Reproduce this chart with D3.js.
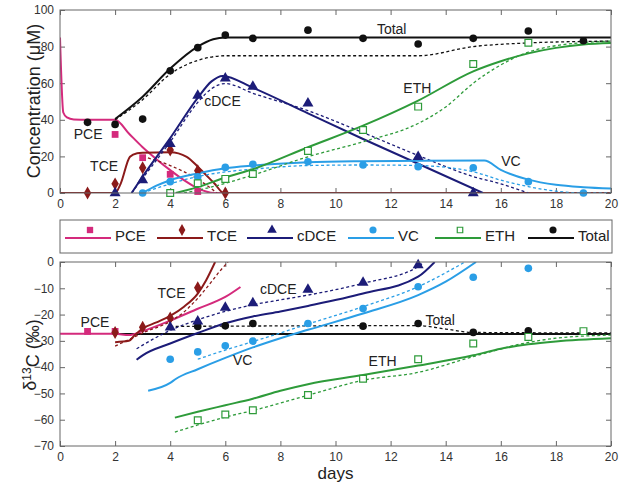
<!DOCTYPE html>
<html lang="en">
<head>
<meta charset="UTF-8">
<script src="https://d3js.org/d3.v7.min.js"></script>
<title>Concentration and d13C</title>
<style>
  body { margin: 0; background: white; }
  svg { font-family: Arial, "Liberation Sans", Helvetica, sans-serif; }
  .tick text { font-size: 12px; fill: #333; }
  .tick line { stroke: #666; }
  .lbl { font-size: 14px; fill: #222; }
</style>
</head>
<body>
<svg id="chart" width="621" height="484"></svg>
<script>
// ---- concentration (uM) ----
const pceObs = [[2, 32], [3, 19.3], [4, 10.2], [5, 0.8]];
const pceFit = [[0, 85], [0.12, 44], [0.25, 41.3], [0.5, 40.2], [1, 40], [2, 40], [2.5, 32.5], [3, 25], [3.5, 18.5], [4, 12.5], [4.5, 7], [5, 2.5], [5.6, 0], [6, 0]];
const tceObs = [[1, 0], [2, 5], [3, 13.8], [4, 23.5], [5, 12.2], [6, 0]];
const tceFit = [[0, 0], [2, 0], [2.2, 5], [2.54, 19.8], [2.8, 21.7], [3, 22], [4, 22.3], [4.6, 19.8], [5, 14.4], [5.6, 5.3], [5.95, 0], [20, 0]];
const tceDash = [[3, 20], [4, 15], [5, 7.5], [5.7, 0]];
const cdceObs = [[2, 0], [3, 7.1], [4, 26.8], [5, 53.2], [6, 62.7], [7, 58.1], [9, 49], [13, 19.8], [15, 0]];
const cdceFit = [[2.6, 0], [3, 9], [4, 30], [5, 52], [5.5, 61], [5.9, 64], [7, 57.5], [9, 43.5], [11, 29.5], [13, 16], [15.35, 0]];
const cdceDash = [[2.6, 0], [3, 8], [4, 28], [5, 49.5], [5.5, 57], [6, 59.8], [7, 54.5], [9, 45], [11, 33], [13, 20.5], [15, 9], [16, 5], [17, 0]];
const vcObs = [[3, 0], [4, 6.2], [5, 8.9], [6, 14], [7, 15.7], [9, 17.1], [11, 15.3], [13, 14.4], [15, 13.8], [17, 6.2], [19, 0]];
const vcFit = [[3, 0], [3.5, 4], [4, 7], [5, 10.7], [6, 13.5], [7, 15], [9, 16.8], [11, 17.4], [13, 17.6], [15.4, 17.7], [16, 12.6], [17, 7.3], [18, 4.5], [19, 3.2], [20, 2.5]];
const vcDash = [[3, 0], [4, 5], [5, 9], [6, 11.5], [7, 13], [9, 15], [11, 15.3], [13, 15], [15, 11.6], [16, 7], [17, 3.5], [18, 1], [19, 0], [20, 0]];
const ethObs = [[4, 0], [5, 5.3], [6, 7.7], [7, 10.4], [9, 23], [11, 34.4], [13, 47.2], [15, 70.5], [17, 82.1]];
const ethFit = [[4.2, 0], [5, 3.2], [6, 8.5], [7, 13], [9, 25], [11, 36.8], [13, 50.5], [15, 66.5], [16, 72], [17, 76.3], [18, 79.3], [19, 81.2], [20, 82]];
const ethDash = [[4.5, 0], [5, 1.5], [6, 5.3], [7, 9.8], [9, 19.8], [11, 28], [13, 38], [14, 47], [15, 60], [16, 70], [17, 77], [18, 80.5], [20, 83]];
const totalObs = [[1, 38.6], [2, 37.5], [3, 40.4], [4, 66.8], [5, 79.4], [6, 86.3], [7, 84.5], [9, 89], [11, 84.5], [13, 81.4], [15, 84.5], [17, 88.5], [19, 83.2]];
const totalFit = [[2, 40.4], [3, 52.6], [4, 68], [5, 80], [5.56, 84], [6, 85], [20, 85]];
const totalDash = [[2, 40], [3, 51], [4, 65], [5, 72.5], [5.5, 74.3], [6, 75], [13, 75], [15, 80], [17, 82], [20, 83]];

// ---- delta 13C (permil) ----
const pceIsoObs = [[1, -26.4], [2, -26.4]];
const pceIsoFit = [[0, -27.3], [2, -27.3], [2.5, -27.8], [3, -26.3], [4, -22.3], [5, -17.8], [6, -13.3], [6.55, -9.5]];
const tceIsoObs = [[2, -26.8], [3, -24.8], [4, -21.3], [5, -9.8]];
const tceIsoFit = [[2, -30.5], [2.5, -30], [2.7, -28], [3, -25.3], [3.5, -23], [4, -20.5], [4.5, -17], [5, -12], [5.3, -7], [5.63, 0]];
const tceIsoDash = [[2, -32], [2.5, -29.5], [3, -27], [4, -22.6], [4.5, -19], [5, -13.8], [5.5, -7.5], [5.8, -3.5], [6.1, 0]];
const cdceIsoObs = [[4, -24.9], [5, -22.6], [6, -17.3], [7, -15.6], [9, -10.5], [11, -7.8], [13, -1.2]];
const cdceIsoFit = [[2.78, -37.2], [3, -35.5], [4, -31], [5, -27], [6, -23.3], [7, -20.7], [8, -18.8], [9, -16.7], [11, -12], [13, -5.6], [13.6, 0]];
const cdceIsoDash = [[2.78, -33], [4, -26], [5, -22], [6, -18.8], [7, -16.3], [8, -14.4], [9, -12.6], [11, -8.1], [13, -1.8], [13.2, 0]];
const vcIsoObs = [[4, -37], [5, -34.2], [6, -31.9], [7, -30.1], [9, -23.4], [11, -17.7], [13, -9.4], [15, -5.8], [17, -2.4]];
const vcIsoFit = [[3.2, -49], [4, -46], [4.2, -44.5], [5, -40.8], [6, -36.5], [7, -32.5], [8, -29], [9, -25.8], [11, -19.6], [13, -12.6], [14, -7.5], [15.1, 0]];
const vcIsoDash = [[5, -37], [6, -33.5], [7, -30.3], [8, -27], [9, -23.6], [11, -17], [13, -9.4], [14.7, 0]];
const ethIsoObs = [[5, -60.2], [6, -58], [7, -56.4], [9, -50.6], [11, -44.4], [13, -37], [15, -31], [17, -28.5], [19, -26.3]];
const ethIsoFit = [[4.17, -59.2], [5, -57], [6, -54.5], [7, -52], [8, -49], [9, -46.5], [11, -43], [13, -39.4], [15, -35.5], [16, -33], [17, -31.3], [18, -30.2], [20, -29]];
const ethIsoDash = [[4.17, -64.7], [5, -62], [6, -59], [7, -56.5], [9, -50.7], [11, -45], [13, -42], [15, -36], [17, -30.6], [18, -29], [20, -27.8]];
const totalIsoObs = [[5, -24.5], [6, -24.3], [7, -23.4], [11, -24.4], [13, -23.4], [15, -26.8], [17, -26.2]];
const totalIsoFit = [[2, -27.4], [20, -27.4]];
const totalIsoDash = [[4, -24.5], [13, -24.2], [14, -25.5], [15, -26.8], [20, -27]];

const dayTicks = [0, 2, 4, 6, 8, 10, 12, 14, 16, 18, 20];
const concTicks = [0, 20, 40, 60, 80, 100];
const isoTicks = [-70, -60, -50, -40, -30, -20, -10, 0];

const names = ["PCE", "TCE", "cDCE", "VC", "ETH", "Total"];
const colors = ["#d42a7c", "#8b1a1a", "#1c1c78", "#2a9ee6", "#2e9b3a", "#111111"];
const symbols = [d3.symbolSquare, d3.symbolDiamond, d3.symbolTriangle, d3.symbolCircle, d3.symbolSquare, d3.symbolCircle];
const hollow = [false, false, false, false, true, false];

const topLabels = [["Total", 12.04, 89.5], ["cDCE", 5.9, 50.3], ["PCE", 1.02, 32.2], ["TCE", 1.6, 14.9], ["ETH", 12.97, 57.5], ["VC", 16.37, 17.6]];
const botLabels = [["PCE", 1.27, -22.8], ["TCE", 4.05, -11.9], ["cDCE", 7.92, -10.4], ["VC", 6.63, -37.4], ["Total", 13.8, -22.1], ["ETH", 11.71, -37.7]];

const svg = d3.select("#chart");
const x = d3.scaleLinear().domain([0, 20]).range([60, 611]);
const yTop = d3.scaleLinear().domain([0, 100]).range([193, 10]);
const yBot = d3.scaleLinear().domain([-70, 0]).range([446, 262]);

const topSeries = [
  { i: 0, obs: pceObs, fit: pceFit },
  { i: 1, obs: tceObs, fit: tceFit, dash: tceDash },
  { i: 2, obs: cdceObs, fit: cdceFit, dash: cdceDash },
  { i: 3, obs: vcObs, fit: vcFit, dash: vcDash },
  { i: 4, obs: ethObs, fit: ethFit, dash: ethDash },
  { i: 5, obs: totalObs, fit: totalFit, dash: totalDash }
];
const botSeries = [
  { i: 5, obs: totalIsoObs, fit: totalIsoFit, dash: totalIsoDash },
  { i: 0, obs: pceIsoObs, fit: pceIsoFit },
  { i: 1, obs: tceIsoObs, fit: tceIsoFit, dash: tceIsoDash },
  { i: 2, obs: cdceIsoObs, fit: cdceIsoFit, dash: cdceIsoDash },
  { i: 3, obs: vcIsoObs, fit: vcIsoFit, dash: vcIsoDash },
  { i: 4, obs: ethIsoObs, fit: ethIsoFit, dash: ethIsoDash }
];

function drawPanel(id, y, series, yTicks, labels) {
  const [y0, y1] = y.range();
  const g = svg.append("g");

  g.append("clipPath").attr("id", id)
    .append("rect").attr("x", x(0)).attr("y", y1).attr("width", x(20) - x(0)).attr("height", y0 - y1);

  // axes with inward ticks on all four sides
  const ax = (axis, tx, ty, labels) => {
    const a = g.append("g").attr("transform", `translate(${tx},${ty})`)
      .call(axis.tickSizeInner(-5).tickSizeOuter(0).tickPadding(labels ? 6 : 0));
    if (!labels) a.selectAll("text").remove();
    a.select(".domain").remove();
  };
  ax(d3.axisBottom(x).tickValues(dayTicks).tickFormat(d3.format("d")), 0, y0, true);
  ax(d3.axisTop(x).tickValues(dayTicks), 0, y1, false);
  ax(d3.axisLeft(y).tickValues(yTicks).tickFormat(d3.format("d")), x(0), 0, true);
  ax(d3.axisRight(y).tickValues(yTicks), x(20), 0, false);
  g.selectAll(".tick text").attr("dx", null);

  const plot = g.append("g").attr("clip-path", `url(#${id})`);
  const line = d3.line().x(d => x(d[0])).y(d => y(d[1])).curve(d3.curveMonotoneX);

  series.forEach(s => {
    if (s.dash) {
      plot.append("path").attr("d", line(s.dash)).attr("fill", "none")
        .attr("stroke", colors[s.i]).attr("stroke-width", 1.3).attr("stroke-dasharray", "3,2.5");
    }
    plot.append("path").attr("d", line(s.fit)).attr("fill", "none")
      .attr("stroke", colors[s.i]).attr("stroke-width", 2);
  });

  series.forEach(s => {
    g.selectAll(null).data(s.obs).join("path")
      .attr("transform", d => `translate(${x(d[0])},${y(d[1])})`)
      .attr("d", d3.symbol(symbols[s.i], s.i === 1 ? 48 : s.i === 2 ? 52 : 46))
      .attr("fill", hollow[s.i] ? "white" : colors[s.i])
      .attr("stroke", hollow[s.i] ? colors[s.i] : "none")
      .attr("stroke-width", 1.2);
  });

  g.selectAll(null).data(labels).join("text")
    .attr("class", "lbl")
    .attr("x", d => x(d[1])).attr("y", d => y(d[2]))
    .attr("text-anchor", "middle").attr("dy", "0.36em")
    .text(d => d[0]);

  g.append("rect").attr("x", x(0)).attr("y", y1)
    .attr("width", x(20) - x(0)).attr("height", y0 - y1)
    .attr("fill", "none").attr("stroke", "#666").attr("stroke-width", 1);
}

drawPanel("clipTop", yTop, topSeries, concTicks, topLabels);
drawPanel("clipBot", yBot, botSeries, isoTicks, botLabels);

// y axis titles
svg.append("text").attr("transform", "translate(34,101) rotate(-90)")
  .attr("text-anchor", "middle").attr("dy", "0.35em")
  .style("font-size", "18px").attr("fill", "#222")
  .text("Concentration (\u03bcM)");

const iso = svg.append("text").attr("transform", "translate(30,355) rotate(-90)")
  .attr("text-anchor", "middle").attr("dy", "0.35em")
  .style("font-size", "18px").attr("fill", "#222");
iso.append("tspan").text("\u03b4");
iso.append("tspan").attr("dy", "-0.45em").style("font-size", "12px").text("13");
iso.append("tspan").attr("dy", "0.45em").text("C (\u2030)");

svg.append("text").attr("x", x(10)).attr("y", 473).attr("dy", "0.35em")
  .attr("text-anchor", "middle").style("font-size", "17px").attr("fill", "#222")
  .text("days");

// legend
const legendX = [65, 157, 247, 348, 435, 528];
const lg = svg.append("g");
lg.append("rect").attr("x", 60).attr("y", 220).attr("width", 552).attr("height", 33)
  .attr("fill", "white").attr("stroke", "#666");
names.forEach((n, i) => {
  const lx = legendX[i];
  lg.append("line").attr("x1", lx).attr("x2", lx + 46).attr("y1", 238).attr("y2", 238)
    .attr("stroke", colors[i]).attr("stroke-width", 2);
  lg.append("path").attr("transform", `translate(${lx + 25},230)`)
    .attr("d", d3.symbol(symbols[i], i === 4 ? 30 : 40))
    .attr("fill", hollow[i] ? "white" : colors[i])
    .attr("stroke", hollow[i] ? colors[i] : "none").attr("stroke-width", 1.2);
  lg.append("text").attr("class", "lbl").attr("x", lx + 50).attr("y", 236).attr("dy", "0.36em")
    .style("font-size", "15px").text(n);
});
</script>
</body>
</html>
